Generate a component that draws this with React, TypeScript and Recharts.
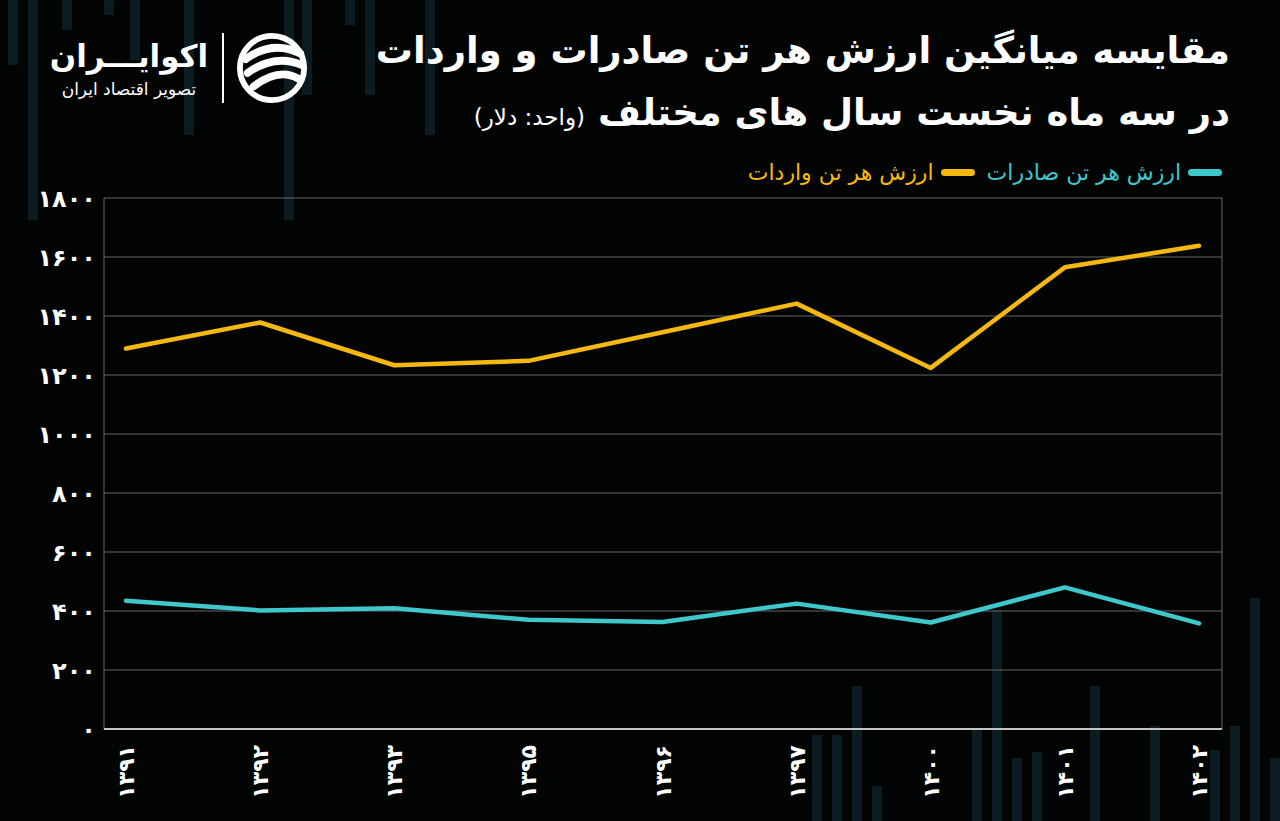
import { LineChart, Line, XAxis, YAxis, CartesianGrid } from 'recharts';

// years (solar hijri), first three months of each year
const years = ['۱۳۹۱', '۱۳۹۲', '۱۳۹۳', '۱۳۹۵', '۱۳۹۶', '۱۳۹۷', '۱۴۰۰', '۱۴۰۱', '۱۴۰۲'];
const importValues = [1290, 1378, 1233, 1248, 1345, 1442, 1224, 1565, 1638];
const exportValues = [435, 402, 409, 370, 363, 425, 361, 480, 358];
const yTicks = [0, 200, 400, 600, 800, 1000, 1200, 1400, 1600, 1800];

const exportLabel = 'ارزش هر تن صادرات';
const importLabel = 'ارزش هر تن واردات';

const EXPORT_COLOR = '#3ec8cc';
const IMPORT_COLOR = '#f5b811';
const FONT = '"DejaVu Sans", "Noto Sans", sans-serif';

const toFa = (n: number | string) =>
  String(n).replace(/\d/g, (d) => '۰۱۲۳۴۵۶۷۸۹'[Number(d)]);

const chartData = years.map((year, i) => ({
  year,
  imports: importValues[i],
  exports: exportValues[i],
}));

// faint background stripes (decoration only)
const bgBars = [
  [8, 0, 10, 65], [28, 0, 10, 220], [62, 0, 10, 30], [104, 0, 10, 15], [130, 0, 10, 60],
  [184, 0, 10, 135], [284, 0, 10, 220], [302, 0, 10, 95], [345, 0, 10, 25], [365, 0, 10, 95],
  [425, 0, 10, 135], [812, 735, 10, 86], [832, 735, 10, 86], [852, 686, 10, 135],
  [872, 786, 10, 35], [972, 730, 10, 91], [992, 610, 10, 211], [1012, 758, 10, 63],
  [1032, 752, 10, 69], [1090, 686, 10, 135], [1150, 726, 10, 95], [1210, 750, 10, 71],
  [1230, 726, 10, 95], [1250, 598, 10, 223], [1270, 758, 10, 63],
];

function YearTick(props: any) {
  const { x, y, payload } = props;
  const tx = x + 8;
  const ty = y + 8;
  return (
    <text
      x={tx}
      y={ty}
      transform={`rotate(-90, ${tx}, ${ty})`}
      textAnchor="end"
      fill="#ffffff"
      fontSize={22}
      fontWeight={700}
      fontFamily={FONT}
    >
      {payload.value}
    </text>
  );
}

function LegendItem({ color, label }: { color: string; label: string }) {
  return (
    <div style={{ display: 'flex', alignItems: 'center', gap: 7 }}>
      <span style={{ width: 34, height: 7, borderRadius: 4, background: color, display: 'inline-block' }} />
      <span style={{ color, fontSize: 22, fontFamily: FONT }}>{label}</span>
    </div>
  );
}

function Logo() {
  return (
    <div style={{ position: 'absolute', left: 48, top: 32, display: 'flex', alignItems: 'center', gap: 12 }}>
      <div dir="rtl" style={{ color: '#fff', fontFamily: FONT, textAlign: 'center', width: 162 }}>
        <div style={{ fontSize: 31, fontWeight: 700, lineHeight: '42px' }}>اکوایـــران</div>
        <div style={{ fontSize: 17, lineHeight: '24px' }}>تصویر اقتصاد ایران</div>
      </div>
      <div style={{ width: 2, height: 70, background: '#fff' }} />
      <svg width={72} height={72} viewBox="0 0 74 74">
        <circle cx={37} cy={37} r={33} fill="none" stroke="#fff" strokeWidth={6} />
        <path d="M10 28 Q37 8 66 22" stroke="#fff" strokeWidth={8} fill="none" strokeLinecap="round" />
        <path d="M12 42 Q40 22 68 34" stroke="#fff" strokeWidth={8} fill="none" strokeLinecap="round" />
        <path d="M18 56 Q44 36 64 48" stroke="#fff" strokeWidth={8} fill="none" strokeLinecap="round" />
      </svg>
    </div>
  );
}

export default function App() {
  return (
    <div
      style={{
        position: 'fixed',
        left: 0,
        top: 0,
        width: 1280,
        height: 821,
        background: '#020303',
        overflow: 'hidden',
        fontFamily: FONT,
      }}
    >
      {bgBars.map(([x, y, w, h], i) => (
        <div
          key={i}
          style={{ position: 'absolute', left: x, top: y, width: w, height: h, background: '#0a1c22' }}
        />
      ))}

      <Logo />

      <div
        dir="rtl"
        style={{ position: 'absolute', right: 50, top: 22, color: '#fff', textAlign: 'right', fontFamily: FONT }}
      >
        <div style={{ fontSize: 37, fontWeight: 700, lineHeight: '58px', whiteSpace: 'nowrap' }}>
          مقایسه میانگین ارزش هر تن صادرات و واردات
        </div>
        <div style={{ fontSize: 37, fontWeight: 700, lineHeight: '66px', whiteSpace: 'nowrap' }}>
          در سه ماه نخست سال های مختلف{' '}
          <span style={{ fontSize: 23, fontWeight: 400 }}>(واحد: دلار)</span>
        </div>
      </div>

      <div
        dir="rtl"
        style={{ position: 'absolute', right: 58, top: 160, display: 'flex', alignItems: 'center', gap: 12 }}
      >
        <LegendItem color={EXPORT_COLOR} label={exportLabel} />
        <LegendItem color={IMPORT_COLOR} label={importLabel} />
      </div>

      <div style={{ position: 'absolute', left: 0, top: 0 }}>
        <LineChart width={1280} height={821} data={chartData} margin={{ top: 198, right: 58, left: 44, bottom: 22 }}>
          <CartesianGrid
            stroke="#676767"
            strokeWidth={1}
            verticalCoordinatesGenerator={({ offset }: any) => [offset.left, offset.left + offset.width]}
          />
          <XAxis
            dataKey="year"
            interval={0}
            height={70}
            padding={{ left: 22, right: 23 }}
            axisLine={{ stroke: '#c4c4c4', strokeWidth: 2 }}
            tickLine={false}
            tick={<YearTick />}
          />
          <YAxis
            domain={[0, 1800]}
            ticks={yTicks}
            interval={0}
            width={60}
            axisLine={false}
            tickLine={false}
            tickFormatter={toFa}
            tick={{ fill: '#ffffff', fontSize: 24, fontWeight: 700, fontFamily: FONT }}
          />
          <Line
            type="linear"
            dataKey="imports"
            stroke={IMPORT_COLOR}
            strokeWidth={4.5}
            dot={false}
            strokeLinecap="round"
            strokeLinejoin="round"
            isAnimationActive={false}
          />
          <Line
            type="linear"
            dataKey="exports"
            stroke={EXPORT_COLOR}
            strokeWidth={4.5}
            dot={false}
            strokeLinecap="round"
            strokeLinejoin="round"
            isAnimationActive={false}
          />
        </LineChart>
      </div>
    </div>
  );
}
